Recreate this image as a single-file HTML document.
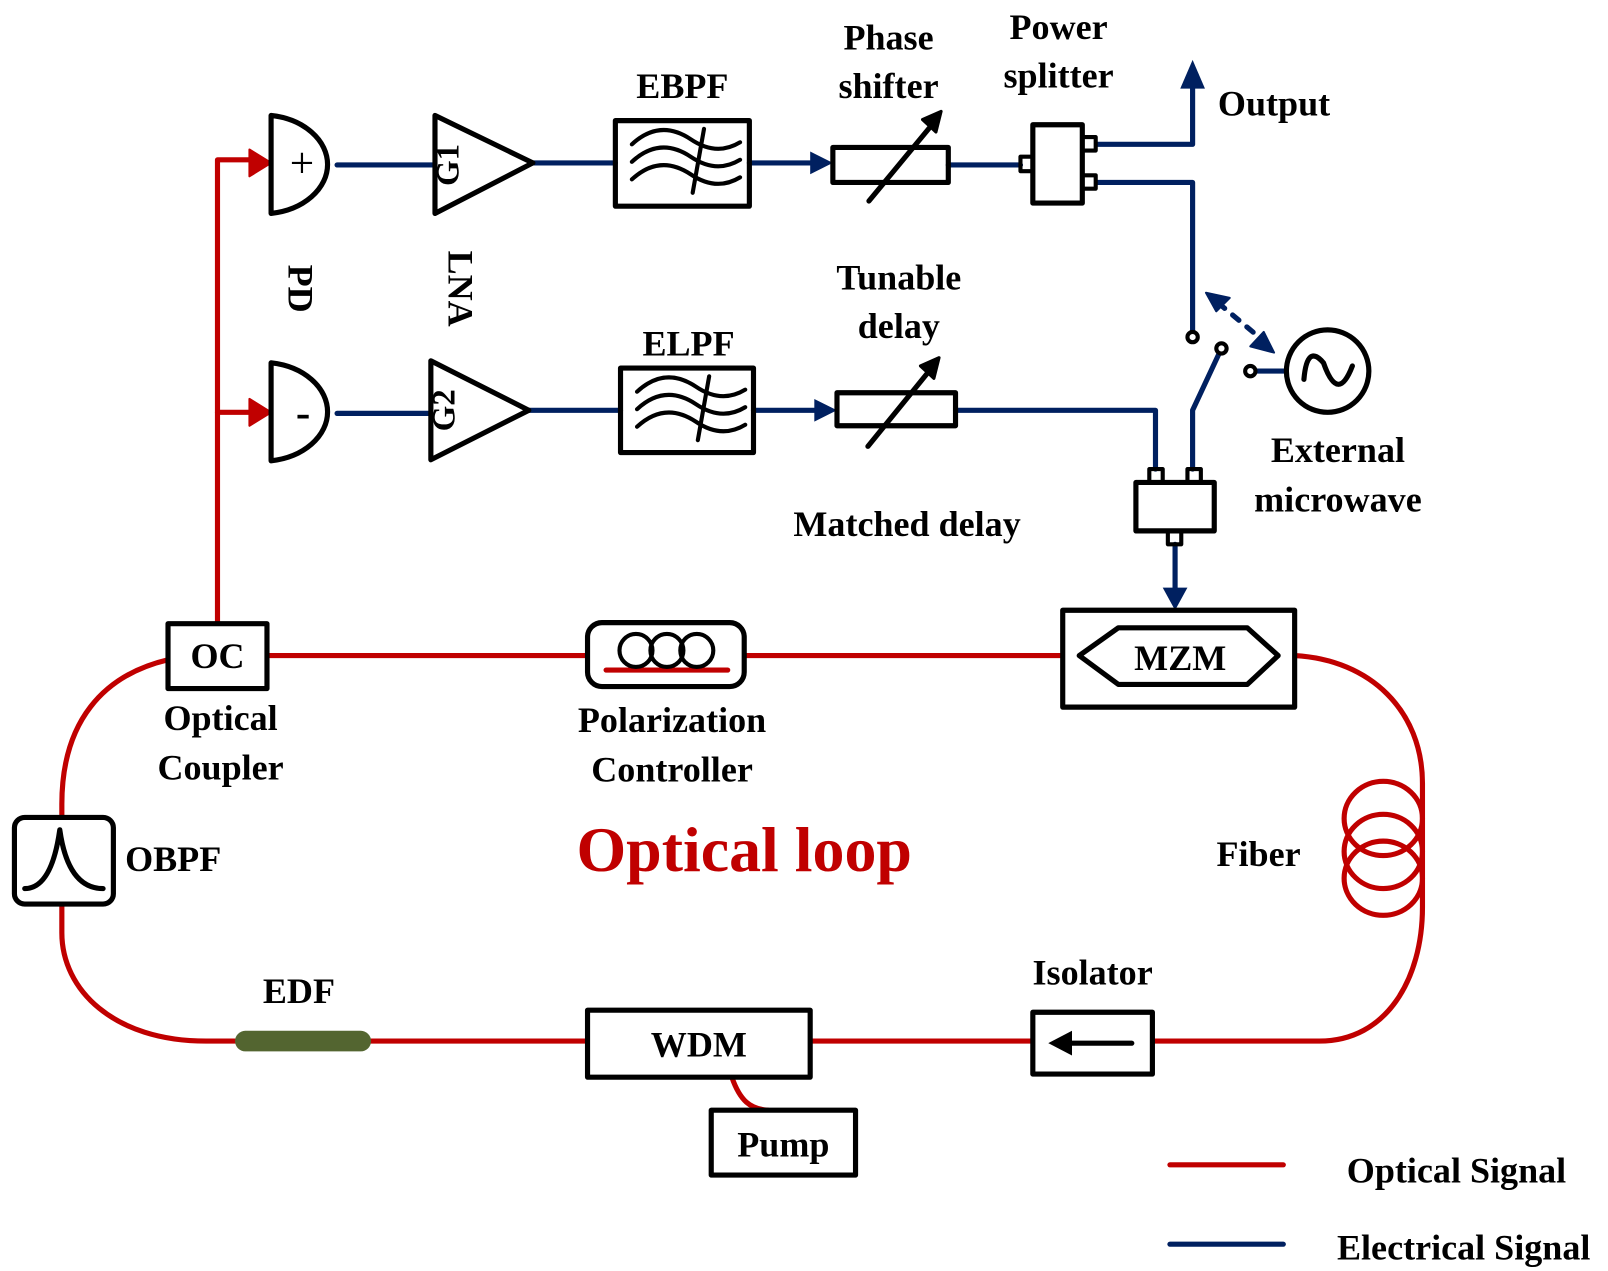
<!DOCTYPE html>
<html><head><meta charset="utf-8"><style>html,body{margin:0;padding:0;background:#fff}svg{display:block}</style></head>
<body>
<svg width="1608" height="1271" viewBox="0 0 1560 1233" xmlns="http://www.w3.org/2000/svg" font-family="'Liberation Serif', serif" font-weight="bold">
<g fill="none" stroke-linecap="round" stroke-linejoin="round">
<!-- red feed -->
<path d="M211,604 V155 H245" stroke="#c00000" stroke-width="5"/>
<path d="M211,400 H245" stroke="#c00000" stroke-width="5"/>
<path d="M242,145 L263,158 L242,171 Z" fill="#c00000" stroke="#c00000" stroke-width="2"/>
<path d="M242,387 L263,400 L242,413 Z" fill="#c00000" stroke="#c00000" stroke-width="2"/>
<!-- PDs -->
<path d="M263,112 V207 A64,48 0 0 0 263,112 Z" stroke="#000" stroke-width="5"/>
<path d="M263,352 V447 A64,48 0 0 0 263,352 Z" stroke="#000" stroke-width="5"/>
<!-- blue lines -->
<g stroke="#002060" stroke-width="5">
<path d="M327,160 H421"/><path d="M327,401 H418"/>
<path d="M517,158 H597"/><path d="M513,398 H602"/>
<path d="M727,158 H790"/>
<path d="M731,398 H795"/>
<path d="M920,160 H990"/>
<path d="M1064,140 H1157 V80"/>
<path d="M1064,177 H1157 V322"/>
<path d="M927,398 H1121 V455"/>
<path d="M1185,338 L1157,398 V455"/>
<path d="M1218,360 H1248"/>
<path d="M1140,528 V575"/>
</g>
<path d="M1145,86 L1157,58 L1169,86 Z" fill="#002060" stroke="none"/>
<path d="M786,147 L808,158 L786,169 Z" fill="#002060" stroke="none"/>
<path d="M790,387 L812,398 L790,409 Z" fill="#002060" stroke="none"/>
<path d="M1128,570 L1140,592 L1152,570 Z" fill="#002060" stroke="none"/>
<!-- dashed double arrow -->
<path d="M1182,294 L1225,330" stroke="#002060" stroke-width="5" stroke-dasharray="8,10"/>
<path d="M1170,284 L1193,289 L1180,302 Z M1236,342 L1213,336 L1226,322 Z" fill="#002060" stroke="#002060" stroke-width="2"/>
<!-- amps -->
<path d="M422,112 V207 L517,158 Z" stroke="#000" stroke-width="5"/>
<path d="M418,350 V446 L513,398 Z" stroke="#000" stroke-width="5"/>
<!-- filters -->
<rect x="597" y="117" width="130" height="83" stroke="#000" stroke-width="5"/>
<rect x="602" y="357" width="129" height="82" stroke="#000" stroke-width="5"/>
<g stroke="#000" stroke-width="4">
<path d="M613,140 Q640,115 670,135 Q695,152 718,138"/><path d="M613,157 Q640,132 670,152 Q695,169 718,155"/><path d="M613,174 Q640,149 670,169 Q695,186 718,172"/><path d="M683,125 L672,187"/>
<path d="M618,380 Q645,355 675,375 Q700,392 723,378"/><path d="M618,397 Q645,372 675,392 Q700,409 723,395"/><path d="M618,414 Q645,389 675,409 Q700,426 723,412"/><path d="M688,365 L677,427"/>
</g>
<!-- phase shifter / delay -->
<rect x="808" y="143" width="112" height="34" stroke="#000" stroke-width="5"/>
<rect x="812" y="381" width="115" height="32" stroke="#000" stroke-width="5"/>
<path d="M843,195 L905,120" stroke="#000" stroke-width="5"/>
<path d="M913,108 L895,116 L908,128 Z" fill="#000" stroke="#000" stroke-width="3"/>
<path d="M842,433 L903,358" stroke="#000" stroke-width="5"/>
<path d="M911,347 L893,355 L906,367 Z" fill="#000" stroke="#000" stroke-width="3"/>
<!-- power splitter -->
<rect x="1002" y="121" width="48" height="76" stroke="#000" stroke-width="5"/>
<rect x="990" y="152" width="12" height="14" stroke="#000" stroke-width="4"/>
<rect x="1050" y="133" width="13" height="13" stroke="#000" stroke-width="4"/>
<rect x="1050" y="170" width="13" height="13" stroke="#000" stroke-width="4"/>
<!-- combiner -->
<rect x="1102" y="468" width="76" height="47" stroke="#000" stroke-width="5"/>
<rect x="1115" y="455" width="13" height="13" stroke="#000" stroke-width="4"/>
<rect x="1152" y="455" width="13" height="13" stroke="#000" stroke-width="4"/>
<rect x="1133" y="515" width="13" height="13" stroke="#000" stroke-width="4"/>
<!-- switch contacts & source -->
<circle cx="1157" cy="327" r="5" fill="#fff" stroke="#000" stroke-width="4"/>
<circle cx="1185" cy="338" r="5" fill="#fff" stroke="#000" stroke-width="4"/>
<circle cx="1213" cy="360" r="5" fill="#fff" stroke="#000" stroke-width="4"/>
<circle cx="1288" cy="360" r="40" stroke="#000" stroke-width="5"/>
<path d="M1265,368 Q1268,333 1284,352 Q1298,392 1312,355" stroke="#000" stroke-width="5"/>
<!-- optical loop -->
<g stroke="#c00000" stroke-width="5">
<path d="M259,636 H570"/><path d="M722,636 H1031"/>
<path d="M163,640 C100,655 60,700 60,780 V793"/>
<path d="M60,877 V905 C60,960 110,1010 200,1010 H228"/>
<path d="M360,1010 H570"/><path d="M786,1010 H1002"/>
<path d="M1118,1010 H1280 C1345,1010 1380,950 1380,880 V760 C1380,690 1330,640 1256,636"/>
<path d="M710,1045 C718,1068 728,1076 745,1077"/>
<ellipse cx="1342" cy="794" rx="38" ry="36"/>
<ellipse cx="1342" cy="826" rx="38" ry="36"/>
<ellipse cx="1342" cy="852" rx="38" ry="36"/>
</g>
<!-- boxes -->
<rect x="163" y="605" width="96" height="63" fill="#fff" stroke="#000" stroke-width="5"/>
<rect x="570" y="604" width="152" height="62" rx="14" fill="#fff" stroke="#000" stroke-width="5"/>
<path d="M588,650 H706" stroke="#c00000" stroke-width="5"/>
<circle cx="617" cy="631" r="16" stroke="#000" stroke-width="4"/>
<circle cx="647" cy="631" r="16" stroke="#000" stroke-width="4"/>
<circle cx="676" cy="631" r="16" stroke="#000" stroke-width="4"/>
<rect x="1031" y="592" width="225" height="94" fill="#fff" stroke="#000" stroke-width="5"/>
<path d="M1047,636 L1085,609 H1210 L1240,636 L1210,664 H1085 Z" stroke="#000" stroke-width="5"/>
<rect x="14" y="793" width="96" height="84" rx="10" fill="#fff" stroke="#000" stroke-width="5"/>
<path d="M24,862 Q50,862 58,805 Q66,862 100,862" stroke="#000" stroke-width="5"/>
<rect x="228" y="1000" width="132" height="20" rx="10" fill="#536530" stroke="none"/>
<rect x="570" y="980" width="216" height="65" fill="#fff" stroke="#000" stroke-width="5"/>
<rect x="1002" y="982" width="116" height="60" fill="#fff" stroke="#000" stroke-width="5"/>
<path d="M1035,1012 H1098" stroke="#000" stroke-width="5"/>
<path d="M1017,1012 L1040,1000 L1040,1024 Z" fill="#000" stroke="none"/>
<rect x="690" y="1077" width="140" height="63" fill="#fff" stroke="#000" stroke-width="5"/>
<!-- legend -->
<path d="M1135,1130 H1245" stroke="#c00000" stroke-width="5"/>
<path d="M1135,1207 H1245" stroke="#002060" stroke-width="5"/>
</g>
<g font-size="35" fill="#000" text-anchor="middle">
<text x="293" y="172" font-weight="normal" font-size="42">+</text>
<text x="294" y="414" font-size="42">-</text>
<text x="0" y="0" transform="translate(433,160) rotate(-90)" font-size="32" dy="12">G1</text>
<text x="0" y="0" transform="translate(429,398) rotate(-90)" font-size="32" dy="12">G2</text>
<text x="0" y="0" transform="translate(292,280) rotate(90)" dy="12">PD</text>
<text x="0" y="0" transform="translate(447,280) rotate(90)" dy="12">LNA</text>
<text x="662" y="95">EBPF</text>
<text x="668" y="345">ELPF</text>
<text x="862" y="48">Phase</text>
<text x="862" y="95">shifter</text>
<text x="1027" y="38">Power</text>
<text x="1027" y="85">splitter</text>
<text x="1236" y="112">Output</text>
<text x="872" y="281">Tunable</text>
<text x="872" y="328">delay</text>
<text x="880" y="520">Matched delay</text>
<text x="1298" y="448">External</text>
<text x="1298" y="496">microwave</text>
<text x="1145" y="650">MZM</text>
<text x="211" y="648">OC</text>
<text x="214" y="708">Optical</text>
<text x="214" y="756">Coupler</text>
<text x="652" y="710">Polarization</text>
<text x="652" y="758">Controller</text>
<text x="168" y="845">OBPF</text>
<text x="1221" y="840">Fiber</text>
<text x="1060" y="955">Isolator</text>
<text x="290" y="973">EDF</text>
<text x="678" y="1025">WDM</text>
<text x="760" y="1122">Pump</text>
<text x="1413" y="1147">Optical Signal</text>
<text x="1420" y="1222">Electrical Signal</text>
<text x="722" y="845" font-size="62" fill="#c00000">Optical loop</text>
</g>
</svg>
</body></html>
